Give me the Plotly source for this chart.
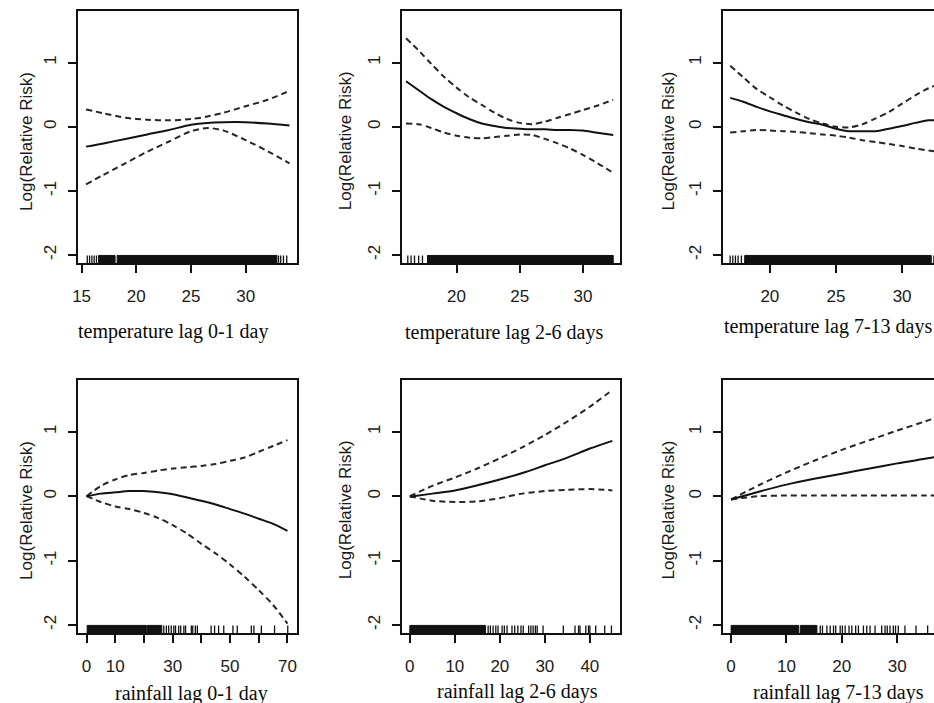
import plotly.graph_objects as go

W, H = 934, 703

# ---------------- temperature lag 0-1 day ----------------
t01_x = [15.4, 17, 19, 21, 23, 25, 26.5, 28, 30, 32, 34]
t01_fit = [-0.31, -0.26, -0.19, -0.12, -0.05, 0.03, 0.06, 0.07, 0.07, 0.05, 0.02]
t01_upper = [0.27, 0.21, 0.14, 0.11, 0.10, 0.12, 0.16, 0.22, 0.32, 0.42, 0.56]
t01_lower = [-0.90, -0.75, -0.57, -0.39, -0.23, -0.07, -0.02, -0.06, -0.21, -0.38, -0.57]
t01_rug = [15.52, 15.73, 15.94, 16.15, 16.36, 33.0, 33.2, 33.45, 33.75]
t01_rug_dense = [(16.55, 18.06), (18.25, 32.85)]

# ---------------- temperature lag 2-6 days ----------------
t26_x = [16, 17, 18, 19, 20, 21, 22, 23, 24, 25, 26, 27, 28, 29, 30, 31, 32.4]
t26_fit = [0.71, 0.57, 0.43, 0.31, 0.21, 0.12, 0.05, 0.01, -0.02, -0.03, -0.04,
           -0.04, -0.05, -0.05, -0.06, -0.09, -0.13]
t26_upper = [1.38, 1.19, 0.98, 0.78, 0.61, 0.46, 0.34, 0.22, 0.12, 0.06, 0.04,
             0.08, 0.14, 0.20, 0.26, 0.32, 0.42]
t26_lower = [0.05, 0.04, -0.02, -0.09, -0.14, -0.17, -0.18, -0.16, -0.14, -0.12,
             -0.13, -0.19, -0.26, -0.34, -0.44, -0.55, -0.72]
t26_rug = [16.14, 16.4, 16.67, 17.0, 17.3]
t26_rug_dense = [(17.7, 32.4)]

# ---------------- temperature lag 7-13 days ----------------
t713_x = [17, 18, 19, 20, 21, 22, 23, 24, 25, 26, 27, 28, 29, 30, 31, 32, 32.6]
t713_fit = [0.45, 0.39, 0.31, 0.24, 0.18, 0.12, 0.07, 0.03, -0.03, -0.07, -0.07,
            -0.07, -0.03, 0.01, 0.06, 0.10, 0.10]
t713_upper = [0.95, 0.77, 0.59, 0.46, 0.33, 0.22, 0.12, 0.05, 0.00, -0.01, 0.04,
              0.13, 0.23, 0.36, 0.49, 0.60, 0.65]
t713_lower = [-0.09, -0.07, -0.05, -0.06, -0.07, -0.08, -0.10, -0.12, -0.14, -0.17,
              -0.21, -0.24, -0.27, -0.30, -0.34, -0.37, -0.39]
t713_rug = [17.0, 17.2, 17.4, 17.6, 17.85, 32.4]
t713_rug_dense = [(18.1, 32.2)]

# ---------------- rainfall lag 0-1 day ----------------
r01_x = [0, 5, 10, 15, 20, 25, 30, 35, 40, 45, 50, 55, 60, 65, 70]
r01_fit = [0, 0.04, 0.06, 0.08, 0.08, 0.06, 0.03, -0.02, -0.07, -0.13, -0.20,
           -0.27, -0.35, -0.43, -0.54]
r01_upper = [0, 0.16, 0.26, 0.33, 0.36, 0.40, 0.43, 0.45, 0.47, 0.50, 0.55,
             0.60, 0.69, 0.78, 0.87]
r01_lower = [0, -0.09, -0.16, -0.20, -0.26, -0.34, -0.45, -0.58, -0.74, -0.89,
             -1.06, -1.25, -1.46, -1.69, -1.98]
r01_rug = [26.9, 27.8, 28.6, 29.5, 30.4, 31.0, 32.1, 32.8, 33.9, 34.5, 36.5, 37.0,
           37.9, 38.6, 43.4, 44.6, 46.0, 47.8, 51.0, 52.5, 57.4, 58.3, 60.9, 65.5, 70.1]
r01_rug_dense = [(0.2, 20.8), (21.1, 26.2)]

# ---------------- rainfall lag 2-6 days ----------------
r26_x = [0, 5, 10, 15, 20, 25, 30, 35, 40, 45]
r26_fit = [-0.01, 0.04, 0.09, 0.17, 0.26, 0.36, 0.48, 0.60, 0.74, 0.86]
r26_upper = [0, 0.16, 0.29, 0.43, 0.59, 0.76, 0.95, 1.16, 1.39, 1.65]
r26_lower = [0, -0.07, -0.09, -0.08, -0.03, 0.04, 0.08, 0.10, 0.11, 0.09]
r26_rug = [17.4, 17.9, 18.5, 19.1, 19.6, 20.5, 21.0, 21.6, 22.7, 23.3, 24.0, 24.7,
           25.2, 26.4, 26.9, 27.4, 27.9, 28.3, 29.6, 34.1, 36.7, 37.5, 37.8, 39.1,
           39.7, 40.0, 41.3, 43.3, 44.8]
r26_rug_dense = [(0.0, 16.8)]

# ---------------- rainfall lag 7-13 days ----------------
r713_x = [0, 5, 10, 15, 20, 25, 30, 35, 37]
r713_fit = [-0.05, 0.07, 0.18, 0.27, 0.35, 0.43, 0.51, 0.58, 0.61]
r713_upper = [-0.05, 0.17, 0.37, 0.55, 0.72, 0.87, 1.02, 1.16, 1.22]
r713_lower = [-0.05, 0.0, 0.01, 0.01, 0.01, 0.01, 0.01, 0.01, 0.01]
r713_rug = [16.1, 16.5, 17.3, 17.9, 18.5, 18.9, 19.7, 20.1, 20.6, 21.3, 21.8, 22.5,
            23.0, 23.9, 24.5, 25.1, 26.0, 27.2, 27.8, 28.2, 28.7, 29.3, 29.7, 30.2,
            31.4, 33.4, 35.5]
r713_rug_dense = [(0.0, 12.2), (12.5, 15.5)]

# axis tick values / labels
y_ticks = [-2, -1, 0, 1]
y_ticklabels = ["-2", "-1", "0", "1"]
t01_ticks = [15, 20, 25, 30]
t26_ticks = [20, 25, 30]
t713_ticks = [20, 25, 30]
r01_ticks = [0, 10, 20, 30, 40, 50, 60, 70]
r01_ticklabels = ["0", "10", "", "30", "", "50", "", "70"]
r26_ticks = [0, 10, 20, 30, 40]
r713_ticks = [0, 10, 20, 30, 40]

titles = ["temperature lag 0-1 day", "temperature lag 2-6 days", "temperature lag 7-13 days",
          "rainfall lag 0-1 day", "rainfall lag 2-6 days", "rainfall lag 7-13 days"]
y_title = "Log(Relative Risk)"

Y_RANGE = [-2.125, 1.805]
RUG_TOP = Y_RANGE[0] + 0.03 * (Y_RANGE[1] - Y_RANGE[0])

# panel geometry in pixels: (left, right) per column, (top, bottom) per row
cols_px = [(73, 294), (399, 618), (722, 934)]
rows_px = [(11, 263), (380, 633)]

panels = [
    dict(x=t01_x, fit=t01_fit, up=t01_upper, lo=t01_lower, rug=t01_rug, dense=t01_rug_dense,
         xr=[14.636, 34.727], tv=t01_ticks, tt=[str(v) for v in t01_ticks], row=0, col=0,
         tx=169, ty=331),
    dict(x=t26_x, fit=t26_fit, up=t26_upper, lo=t26_lower, rug=t26_rug, dense=t26_rug_dense,
         xr=[15.67, 32.91], tv=t26_ticks, tt=[str(v) for v in t26_ticks], row=0, col=1,
         tx=502, ty=332),
    dict(x=t713_x, fit=t713_fit, up=t713_upper, lo=t713_lower, rug=t713_rug, dense=t713_rug_dense,
         xr=[16.47, 32.41], tv=t713_ticks, tt=[str(v) for v in t713_ticks], row=0, col=2,
         tx=827, ty=326),
    dict(x=r01_x, fit=r01_fit, up=r01_upper, lo=r01_lower, rug=r01_rug, dense=r01_rug_dense,
         xr=[-3.12, 73.47], tv=r01_ticks, tt=r01_ticklabels, row=1, col=0,
         tx=188, ty=693),
    dict(x=r26_x, fit=r26_fit, up=r26_upper, lo=r26_lower, rug=r26_rug, dense=r26_rug_dense,
         xr=[-1.77, 46.63], tv=r26_ticks, tt=[str(v) for v in r26_ticks], row=1, col=1,
         tx=515, ty=691),
    dict(x=r713_x, fit=r713_fit, up=r713_upper, lo=r713_lower, rug=r713_rug, dense=r713_rug_dense,
         xr=[-1.44, 36.65], tv=r713_ticks, tt=[str(v) for v in r713_ticks], row=1, col=2,
         tx=838, ty=692),
]

ytitle_x = [21, 342, 667]
ytitle_y = [141, 510]

INK = "#111111"
TICK_FONT = dict(family="Liberation Sans, Arial, sans-serif", size=17, color="#1a1a1a")

fig = go.Figure()
layout = dict(
    width=W, height=H,
    margin=dict(l=0, r=0, t=0, b=0),
    paper_bgcolor="white", plot_bgcolor="white",
    showlegend=False,
    annotations=[],
)

for i, p in enumerate(panels):
    n = "" if i == 0 else str(i + 1)
    xa, ya = "x" + n, "y" + n
    l, r = cols_px[p["col"]]
    t, b = rows_px[p["row"]]
    last_col = p["col"] == 2

    # fitted curve and confidence limits
    fig.add_trace(go.Scatter(x=p["x"], y=p["up"], mode="lines", xaxis=xa, yaxis=ya,
                             line=dict(color="#262626", width=2, dash="6px,4px", shape="spline", smoothing=0.8)))
    fig.add_trace(go.Scatter(x=p["x"], y=p["lo"], mode="lines", xaxis=xa, yaxis=ya,
                             line=dict(color="#262626", width=2, dash="6px,4px", shape="spline", smoothing=0.8)))
    fig.add_trace(go.Scatter(x=p["x"], y=p["fit"], mode="lines", xaxis=xa, yaxis=ya,
                             line=dict(color=INK, width=2, shape="spline", smoothing=0.8)))

    # rug: individual observations
    rx, ry = [], []
    for v in p["rug"]:
        rx += [v, v, None]
        ry += [Y_RANGE[0], RUG_TOP, None]
    fig.add_trace(go.Scatter(x=rx, y=ry, mode="lines", xaxis=xa, yaxis=ya,
                             line=dict(color=INK, width=1.3)))
    # rug: stretches where observations merge into a solid band
    for a, c in p["dense"]:
        fig.add_trace(go.Scatter(x=[a, c, c, a, a], y=[Y_RANGE[0], Y_RANGE[0], RUG_TOP, RUG_TOP, Y_RANGE[0]],
                                 mode="lines", fill="toself", fillcolor=INK, xaxis=xa, yaxis=ya,
                                 line=dict(color=INK, width=1)))

    layout["xaxis" + n] = dict(
        domain=[l / W, r / W], anchor=ya, range=p["xr"],
        tickmode="array", tickvals=p["tv"], ticktext=p["tt"],
        showgrid=False, zeroline=False, showline=True, mirror=True,
        linecolor=INK, linewidth=2, ticks="outside", ticklen=8, tickwidth=1.6,
        tickcolor=INK, tickfont=TICK_FONT, ticklabelstandoff=9,
    )
    layout["yaxis" + n] = dict(
        domain=[1 - b / H, 1 - t / H], anchor=xa, range=Y_RANGE,
        tickmode="array", tickvals=y_ticks, ticktext=y_ticklabels, tickangle=-90,
        showgrid=False, zeroline=False, showline=True, mirror=not last_col,
        linecolor=INK, linewidth=2, ticks="outside", ticklen=8, tickwidth=1.6,
        tickcolor=INK, tickfont=TICK_FONT, ticklabelstandoff=5,
    )

    layout["annotations"].append(dict(
        text=titles[i], xref="paper", yref="paper", x=p["tx"] / W, y=1 - p["ty"] / H,
        xanchor="center", yanchor="middle", showarrow=False,
        font=dict(family="Liberation Serif, Times New Roman, serif", size=20, color="#0a0a0a"),
    ))
    layout["annotations"].append(dict(
        text=y_title, xref="paper", yref="paper", textangle=-90,
        x=ytitle_x[p["col"]] / W, y=1 - ytitle_y[p["row"]] / H,
        xanchor="center", yanchor="middle", showarrow=False,
        font=dict(family="Liberation Sans, Arial, sans-serif", size=17, color="#1a1a1a"),
    ))

fig.update_layout(**layout)
fig.write_html("out.html")
